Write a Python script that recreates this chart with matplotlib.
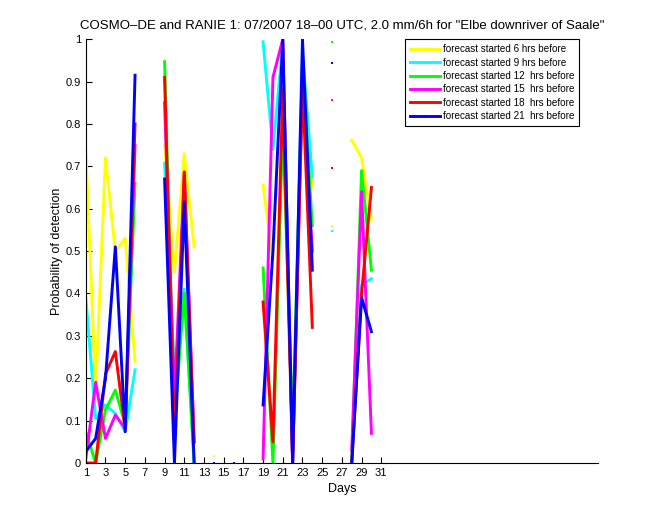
import numpy as np
import matplotlib
matplotlib.use("Agg")
import matplotlib.pyplot as plt

plt.rcParams['font.family'] = ['Liberation Sans', 'DejaVu Sans']

nan = np.nan
days = np.arange(1, 32)

# probability of detection per day, nan = no value
yellow = [0.74, 0.17, 0.72, 0.50, 0.53, 0.24, nan, nan, 0.75, 0.45, 0.73, 0.51, nan, 0.016, nan, nan,
          nan, nan, 0.656, 0.48, 0.95, 0.02, 0.90, 0.65, nan, 0.56, nan, 0.762, 0.72, 0.575, nan]
cyan = [0.39, 0.105, 0.137, 0.117, 0.074, 0.22, nan, nan, 0.707, 0.22, 0.41, 0.0, nan, nan, nan, nan,
        nan, nan, 0.994, 0.74, 0.99, 0.0, 0.966, 0.675, nan, 0.548, nan, 0.0, 0.42, 0.435, nan]
green = [0.074, 0.0, 0.125, 0.172, 0.09, 0.66, nan, nan, 0.947, 0.10, 0.40, 0.0, nan, nan, nan, nan,
         nan, nan, 0.46, 0.0, 0.80, 0.08, 0.93, 0.56, nan, 0.994, nan, 0.0, 0.69, 0.455, nan]
magenta = [0.01, 0.19, 0.058, 0.113, 0.082, 0.75, nan, nan, 0.85, 0.15, 0.685, 0.05, nan, nan, nan, nan,
           nan, nan, 0.01, 0.91, 1.0, 0.0, 0.90, 0.50, nan, 0.856, nan, 0.03, 0.64, 0.07, nan]
red = [0.0, 0.0, 0.21, 0.263, 0.08, 0.80, nan, nan, 0.91, 0.05, 0.687, 0.05, nan, nan, nan, nan,
       nan, nan, 0.38, 0.05, 0.88, 0.0, 0.895, 0.32, nan, 0.697, nan, 0.0, 0.40, 0.65, nan]
blue = [0.027, 0.058, 0.20, 0.51, 0.074, 0.915, nan, nan, 0.67, 0.0, 0.616, 0.0, nan, 0.0, nan, 0.0,
        nan, nan, 0.137, 0.50, 1.0, 0.0, 1.0, 0.455, nan, 0.944, nan, 0.0, 0.39, 0.31, nan]

series = [yellow, cyan, green, magenta, red, blue]
colors = ['#ffff00', '#00ffff', '#00ff00', '#ff00ff', '#ff0000', '#0000ff']
labels = ['forecast started 6 hrs before', 'forecast started 9 hrs before',
          'forecast started 12  hrs before', 'forecast started 15  hrs before',
          'forecast started 18  hrs before', 'forecast started 21  hrs before']

fig = plt.figure(figsize=(6.6, 5.2), dpi=100)
ax = fig.add_axes([0.13, 0.1096, 0.776, 0.815])

for vals, c, lab in zip(series, colors, labels):
    ax.plot(days, vals, color=c, lw=2.1, marker='s', markersize=2, markeredgewidth=0, label=lab)

ax.set_xlim(1, 53)
ax.set_ylim(0, 1)
ax.set_xticks(np.arange(1, 32, 2))
yt = np.arange(0, 1.01, 0.1)
ax.set_yticks(yt)
ax.set_yticklabels(['0'] + ['%.1f' % v for v in yt[1:-1]] + ['1'])
ax.tick_params(direction='in', length=4, labelsize=8)
ax.spines['top'].set_visible(False)
ax.spines['right'].set_visible(False)

ax.set_title('COSMO\u2013DE and RANIE 1: 07/2007 18\u201300 UTC, 2.0 mm/6h for "Elbe downriver of Saale"',
             fontsize=9.5, pad=8)
ax.set_xlabel('Days', fontsize=9, labelpad=4)
ax.set_ylabel('Probability of detection', fontsize=9, labelpad=2)

leg = ax.legend(loc='upper right', bbox_to_anchor=(0.963, 1.0), borderaxespad=0, fontsize=7.1,
                handlelength=3.0, labelspacing=0.35, fancybox=False, framealpha=1, borderpad=0.5,
                handletextpad=0.3)
leg.get_frame().set_edgecolor('black')
leg.get_frame().set_linewidth(0.8)

fig.savefig('out.png', dpi=100)
